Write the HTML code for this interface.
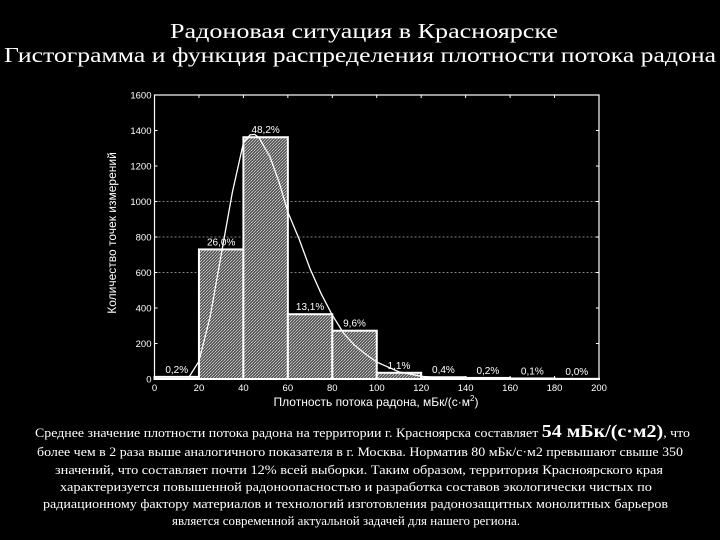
<!DOCTYPE html>
<html><head><meta charset="utf-8"><style>
html,body{margin:0;padding:0;background:#000;width:720px;height:540px;overflow:hidden}
svg{display:block}
</style></head><body>
<svg width="720" height="540" viewBox="0 0 720 540">
<defs>
<pattern id="hatch" width="3" height="3" patternUnits="userSpaceOnUse">
<rect width="3" height="3" fill="#333"/>
<path d="M0,3 L3,0" stroke="#ccc" stroke-width="1"/>
<path d="M0,0 L3,3" stroke="#888" stroke-width="0.5"/>
</pattern>
</defs>
<g font-family="Liberation Serif, serif" fill="#fff" font-size="21" text-anchor="middle">
<text x="364" y="38" textLength="388" lengthAdjust="spacingAndGlyphs">Радоновая ситуация в Красноярске</text>
<text x="360" y="62" textLength="712" lengthAdjust="spacingAndGlyphs">Гистограмма и функция распределения плотности потока радона</text>
</g>
<g id="chart"></g>
<g font-family="Liberation Serif, serif" fill="#fff" font-size="12.5">
<text x="35" y="437" textLength="655" lengthAdjust="spacingAndGlyphs">Среднее значение плотности потока радона на территории г. Красноярска составляет <tspan font-size="18" font-weight="bold">54 мБк/(с·м2)</tspan>, что</text>
<text x="37" y="456" textLength="646" lengthAdjust="spacingAndGlyphs">более чем в 2 раза выше аналогичного показателя в г. Москва. Норматив 80 мБк/с·м2 превышают свыше 350</text>
<text x="55" y="474" textLength="608" lengthAdjust="spacingAndGlyphs">значений, что составляет почти 12% всей выборки. Таким образом, территория Красноярского края</text>
<text x="60" y="491" textLength="592" lengthAdjust="spacingAndGlyphs">характеризуется повышенной радоноопасностью и разработка составов экологически чистых по</text>
<text x="43" y="508" textLength="625" lengthAdjust="spacingAndGlyphs">радиационному фактору материалов и технологий изготовления радонозащитных монолитных барьеров</text>
<text x="172" y="525" textLength="348" lengthAdjust="spacingAndGlyphs">является современной актуальной задачей для нашего региона.</text>
</g>
</svg>
<script>
const binStarts=[0,20,40,60,80,100,120,140,160,180];
const counts=[12,730,1362,365,272,35,10,6,3,1];
const pctLabels=["0,2%","26,0%","48,2%","13,1%","9,6%","1,1%","0,4%","0,2%","0,1%","0,0%"];
const curveX=[15,20,25,30,35,40,43,45,47,52,56,60,65,70,75,80,85,90,95,100,110,120,130,140];
const curveY=[0,100,350,700,1050,1330,1375,1378,1360,1250,1110,940,790,620,480,360,260,190,140,95,40,15,5,0];
const xTicks=[0,20,40,60,80,100,120,140,160,180,200];
const yTicks=[0,200,400,600,800,1000,1200,1400,1600];
const gridVals=[600,800,1000];
const NS="http://www.w3.org/2000/svg";
const L=154.5,R=599,T=95,B=379;
const xs=v=>L+(v/200)*(R-L);
const ys=v=>B-(v/1600)*(B-T);
const g=document.getElementById('chart');
function mk(t,a,p){const e=document.createElementNS(NS,t);for(const k in a)e.setAttribute(k,a[k]);(p||g).appendChild(e);return e;}
const font="Liberation Sans, sans-serif";
gridVals.forEach(v=>{
 const e=mk('line',{x1:L,x2:R,y1:ys(v),y2:ys(v),stroke:'#aaa','stroke-width':0.8,'stroke-dasharray':'2,2'});
 
 
});
binStarts.forEach((s,i)=>{
 const x0=xs(s),x1=xs(s+20),y=ys(counts[i]);
 const r=mk('rect',{x:x0,y:y,width:x1-x0,height:B-y,fill:'url(#hatch)',stroke:'#fff','stroke-width':2});
 
 
 const t=mk('text',{x:(x0+x1)/2,y:y-4,fill:'#fff','font-family':font,'font-size':10,'text-anchor':'middle'});
 t.textContent=pctLabels[i];
 
 
});
const pts=curveX.map((x,i)=>xs(x).toFixed(1)+','+ys(curveY[i]).toFixed(1)).join(' ');
const pl=mk('polyline',{points:pts,fill:'none',stroke:'#fff','stroke-width':1.3});


const fr=mk('rect',{x:L,y:T,width:R-L,height:B-T,fill:'none',stroke:'#fff','stroke-width':1.2});


xTicks.forEach(v=>{
 mk('line',{x1:xs(v),x2:xs(v),y1:B,y2:B-3,stroke:'#fff'});
 mk('line',{x1:xs(v),x2:xs(v),y1:T,y2:T+3,stroke:'#fff'});
 const t=mk('text',{x:xs(v),y:B+12,fill:'#fff','font-family':font,'font-size':9.5,'text-anchor':'middle'});
 t.textContent=v;
 
 
});
yTicks.forEach(v=>{
 mk('line',{x1:L,x2:L+3,y1:ys(v),y2:ys(v),stroke:'#fff'});
 mk('line',{x1:R,x2:R-3,y1:ys(v),y2:ys(v),stroke:'#fff'});
 const t=mk('text',{x:L-3,y:ys(v)+3.5,fill:'#fff','font-family':font,'font-size':9.5,'text-anchor':'end'});
 t.textContent=v;
 
 
});
const xt=mk('text',{x:376,y:406,fill:'#fff','font-family':font,'font-size':12,'text-anchor':'middle'});
xt.innerHTML='Плотность потока радона, мБк/(с·м<tspan font-size="8" dy="-5">2</tspan><tspan dy="5">)</tspan>';


const yt=mk('text',{x:0,y:0,fill:'#fff','font-family':font,'font-size':12,'text-anchor':'middle',transform:'translate(116,233) rotate(-90)'});
yt.textContent='Количество точек измерений';


</script>
</body></html>
